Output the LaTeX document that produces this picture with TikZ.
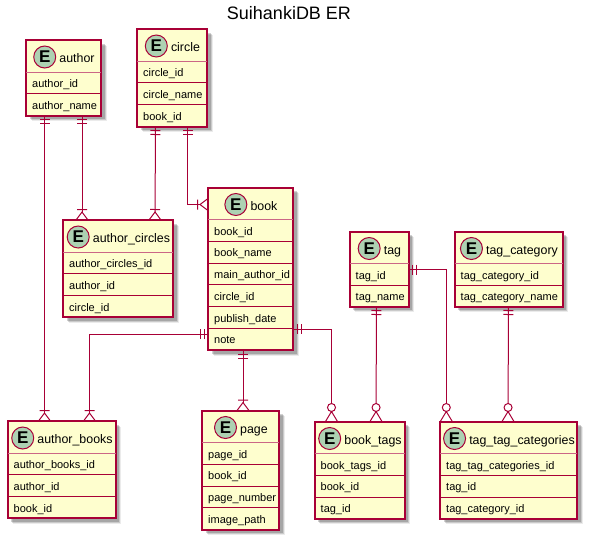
\documentclass[tikz,border=0pt]{standalone}
\usepackage{fontspec}
\setmainfont{Liberation Sans}
\usetikzlibrary{positioning,shadows,calc}

\definecolor{erline}{HTML}{A80036}
\definecolor{erfill}{HTML}{FEFECE}
\definecolor{erspot}{HTML}{ADD1B2}

% Crow's foot ends
\pgfdeclarearrow{
  name=erone,
  setup code={\pgfarrowssettipend{0pt}\pgfarrowssetlineend{0pt}\pgfarrowssetbackend{-9pt}\pgfarrowssetvisualbackend{-9pt}},
  drawing code={
    \pgfpathmoveto{\pgfqpoint{-4pt}{-5pt}}\pgfpathlineto{\pgfqpoint{-4pt}{5pt}}
    \pgfpathmoveto{\pgfqpoint{-8pt}{-5pt}}\pgfpathlineto{\pgfqpoint{-8pt}{5pt}}
    \pgfusepathqstroke
  }
}
\pgfdeclarearrow{
  name=ermany,
  setup code={\pgfarrowssettipend{0pt}\pgfarrowssetlineend{-8pt}\pgfarrowssetbackend{-11pt}\pgfarrowssetvisualbackend{-11pt}},
  drawing code={
    \pgfpathmoveto{\pgfqpoint{0pt}{-6pt}}\pgfpathlineto{\pgfqpoint{-8pt}{0pt}}\pgfpathlineto{\pgfqpoint{0pt}{6pt}}
    \pgfpathmoveto{\pgfqpoint{-10.5pt}{-5pt}}\pgfpathlineto{\pgfqpoint{-10.5pt}{5pt}}
    \pgfusepathqstroke
  }
}
\pgfdeclarearrow{
  name=erzeromany,
  setup code={\pgfarrowssettipend{0pt}\pgfarrowssetlineend{-18pt}\pgfarrowssetbackend{-18pt}\pgfarrowssetvisualbackend{-18pt}},
  drawing code={
    \pgfpathmoveto{\pgfqpoint{0pt}{-6pt}}\pgfpathlineto{\pgfqpoint{-10pt}{0pt}}\pgfpathlineto{\pgfqpoint{0pt}{6pt}}
    \pgfpathcircle{\pgfqpoint{-14pt}{0pt}}{4pt}
    \pgfusepathqstroke
  }
}

\tikzset{
  softshadow/.style={draw=none, fill=black, opacity=#1},
  entity/.style={draw=erline, fill=erfill, line width=2pt, anchor=north west, outer sep=0pt, inner sep=0pt,
    general shadow={shadow xshift=5.5pt, shadow yshift=-5.5pt, softshadow=.08},
    general shadow={shadow xshift=4.5pt, shadow yshift=-4.5pt, softshadow=.14},
    general shadow={shadow xshift=3.5pt, shadow yshift=-3.5pt, softshadow=.18}},
  entitle/.style={inner sep=0pt, font=\fontsize{12.4}{14}\selectfont, text height=12pt, text depth=1pt},
  spot/.style={circle, draw=erline, fill=erspot, line width=1pt, minimum size=22pt, inner sep=0pt,
    font=\fontsize{17}{17}\selectfont\bfseries},
  attr/.style={anchor=west, inner sep=0pt, font=\fontsize{11}{13}\selectfont, text height=8pt, text depth=3pt},
  rowline/.style={draw=erline, line width=1pt},
  headline/.style={draw=erline!60, line width=1pt},
  link/.style={draw=erline, line width=1pt}
}

% name, left, top, width, height, title, rows
\newcommand{\entity}[7]{
  \node[entity, minimum width=#4pt, minimum height=#5pt] (#1) at (#2,#3) {};
  \node[entitle] (#1title) at ($(#1.north)+(13.5,17)$) {#6};
  \node[spot, left=3pt of #1title] (#1spot) {E};
  \draw[headline] ([yshift=-32pt]#1.north west) -- ([yshift=-32pt]#1.north east);
  \foreach \rowtext [count=\i] in {#7} {
    \pgfmathsetmacro{\rowtop}{32+21.75*(\i-1)}
    \ifnum\i>1
      \draw[rowline] ([yshift=-\rowtop pt]#1.north west) -- ([yshift=-\rowtop pt]#1.north east);
    \fi
    \node[attr] (#1row\i) at ($(#1.north west)+(6,\rowtop+13)$) {\rowtext};
  }
}

\begin{document}
\begin{tikzpicture}[x=1pt, y=-1pt]

  \useasboundingbox (0,0) rectangle (590,542);

  % Define nodes
  \node[font=\fontsize{18}{20}\selectfont] (heading) at (289,13) {SuihankiDB ER};

  \entity{author}{26}{40}{75}{75.5}{author}{author\_id, author\_name}
  \entity{circle}{137}{29}{70}{97.5}{circle}{circle\_id, circle\_name, book\_id}
  \entity{book}{208}{187.5}{85}{162.5}{book}{book\_id, book\_name, main\_author\_id, circle\_id, publish\_date, note}
  \entity{authorcircles}{63}{220}{110}{97}{author\_circles}{author\_circles\_id, author\_id, circle\_id}
  \entity{authorbooks}{7.5}{421}{108}{97}{author\_books}{author\_books\_id, author\_id, book\_id}
  \entity{page}{202}{410.5}{77}{119}{page}{page\_id, book\_id, page\_number, image\_path}
  \entity{tag}{349.5}{231.5}{59}{75}{tag}{tag\_id, tag\_name}
  \entity{tagcategory}{454.5}{231.5}{108}{75}{tag\_category}{tag\_category\_id, tag\_category\_name}
  \entity{booktags}{314.5}{421.5}{90}{97}{book\_tags}{book\_tags\_id, book\_id, tag\_id}
  \entity{tagcategories}{440}{421.5}{137}{97}{tag\_tag\_categories}{tag\_tag\_categories\_id, tag\_id, tag\_category\_id}

  % Connect the nodes
  \draw[link, erone-ermany] ([xshift=18.5pt]author.south west) -- ([xshift=37pt]authorbooks.north west);
  \draw[link, erone-ermany] ([xshift=56pt]author.south west) -- ([xshift=19pt]authorcircles.north west);
  \draw[link, erone-ermany] ([xshift=18.5pt]circle.south west) -- ([xshift=92pt]authorcircles.north west);
  \draw[link, erone-ermany] ([xshift=50.5pt]circle.south west) |- ([yshift=-17pt]book.north west);
  \draw[link, erone-ermany] ([yshift=-146.5pt]book.north west) -| ([xshift=82pt]authorbooks.north west);
  \draw[link, erone-ermany] ([xshift=35pt]book.south west) -- ([xshift=41pt]page.north west);
  \draw[link, erone-erzeromany] ([yshift=-141.5pt]book.north east) -| ([xshift=17pt]booktags.north west);
  \draw[link, erone-erzeromany] ([xshift=27pt]tag.south west) -- ([xshift=61.5pt]booktags.north west);
  \draw[link, erone-erzeromany] ([yshift=-38pt]tag.north east) -| ([xshift=6.3pt]tagcategories.north west);
  \draw[link, erone-erzeromany] ([xshift=54pt]tagcategory.south west) -- ([xshift=68pt]tagcategories.north west);

\end{tikzpicture}
\end{document}
